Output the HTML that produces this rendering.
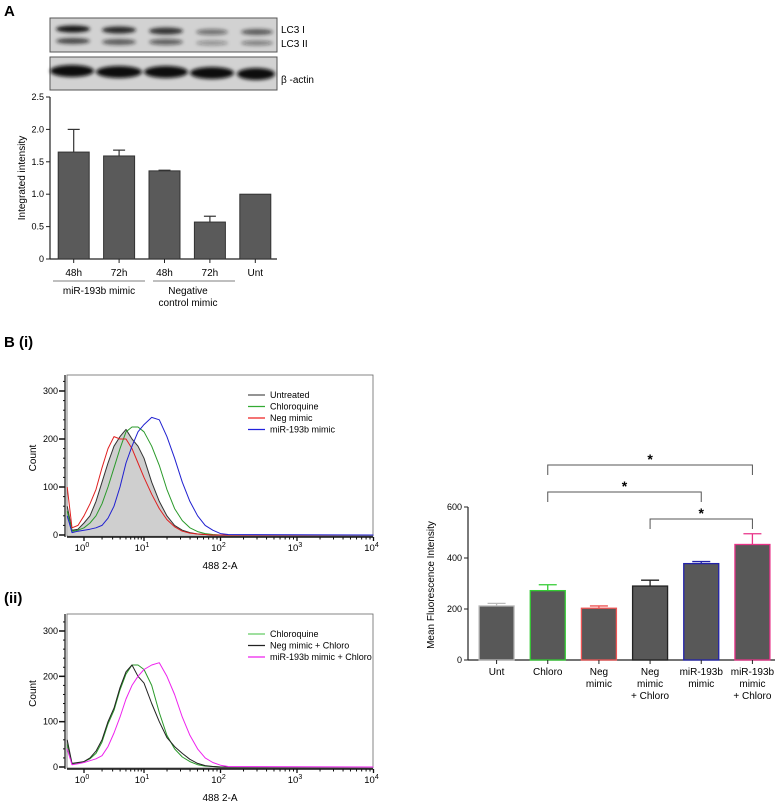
<!DOCTYPE html>
<html><head><meta charset="utf-8"><style>
html,body{margin:0;padding:0;background:#fff;}
svg{display:block;font-family:"Liberation Sans",sans-serif;}
</style></head><body>
<svg id="fig" width="782" height="804" viewBox="0 0 782 804" xmlns="http://www.w3.org/2000/svg">
<defs><filter id="blur" x="-20%" y="-50%" width="140%" height="200%"><feGaussianBlur stdDeviation="1.8"/></filter></defs>
<text x="4" y="16" font-size="15" font-weight="bold">A</text>
<g>
<rect x="50" y="18" width="227" height="34" fill="#d2d2d2" stroke="#555" stroke-width="1"/>
<g filter="url(#blur)" fill="#181818">
<ellipse cx="73" cy="29" rx="17" ry="3.5" opacity="1"/><ellipse cx="119" cy="30" rx="17" ry="3.5" opacity="0.9"/><ellipse cx="166" cy="31" rx="17" ry="3.5" opacity="0.85"/><ellipse cx="212" cy="32" rx="16" ry="3" opacity="0.5"/><ellipse cx="257" cy="32" rx="16" ry="3" opacity="0.65"/>
<ellipse cx="73" cy="41" rx="17" ry="3" opacity="0.75"/><ellipse cx="119" cy="42" rx="17" ry="3" opacity="0.65"/><ellipse cx="166" cy="42" rx="17" ry="3" opacity="0.6"/><ellipse cx="212" cy="43" rx="16" ry="2.5" opacity="0.35"/><ellipse cx="257" cy="43" rx="16" ry="2.5" opacity="0.45"/>
</g></g>
<text x="281" y="33" font-size="10">LC3 I</text>
<text x="281" y="47" font-size="10">LC3 II</text>
<g>
<rect x="50" y="57" width="227" height="33" fill="#d2d2d2" stroke="#555" stroke-width="1"/>
<g filter="url(#blur)" fill="#0a0a0a">
<ellipse cx="72" cy="71" rx="22" ry="6"/><ellipse cx="119" cy="72" rx="23" ry="6"/><ellipse cx="166" cy="72" rx="22" ry="6"/><ellipse cx="212" cy="73" rx="22" ry="6"/><ellipse cx="256" cy="74" rx="19" ry="6"/>
</g></g>
<text x="281" y="83" font-size="10">β -actin</text>
<g id="chartA"></g>
<text x="4" y="347" font-size="15" font-weight="bold">B (i)</text>
<g id="hist1"></g>
<text x="4" y="603" font-size="15" font-weight="bold">(ii)</text>
<g id="hist2"></g>
<g id="chartB"></g>
</svg>
<script>
// Panel A data
const aCats = ["48h","72h","48h","72h","Unt"];
const aVals = [1.65,1.59,1.36,0.57,1.0];
const aErr = [0.35,0.09,0.01,0.09,0];
const aTicks = [0,0.5,1.0,1.5,2.0,2.5];
const aTickLabels = ["0","0.5","1.0","1.5","2.0","2.5"];
// Histogram bins (log10 of intensity)
const hLogs = [-0.28,-0.2,-0.1,0,0.1,0.2,0.3,0.4,0.5,0.6,0.7,0.8,0.9,1.0,1.1,1.2,1.3,1.4,1.5,1.6,1.7,1.8,1.9,2.0,2.1,4.0];
const untreated = [60,10,12,25,40,70,110,150,185,205,220,200,185,160,110,70,40,20,10,5,2,1,0,0,0,0];
const chloroquine = [50,8,10,15,25,40,65,100,140,180,215,225,225,215,185,145,95,55,30,15,7,3,1,0,0,0];
const negMimic = [100,15,20,40,65,95,140,180,205,200,200,180,150,120,85,55,32,17,8,4,2,1,0,0,0,0];
const mirMimic = [40,5,8,10,12,15,20,35,60,100,150,185,215,230,245,240,205,160,110,70,40,20,10,3,1,0];
const chloroquine2 = [50,6,8,12,18,30,55,95,125,170,205,225,225,215,180,120,70,40,22,12,5,2,1,0,0,0];
const negChloro = [60,8,10,12,20,35,60,100,130,175,210,225,200,185,140,100,65,45,30,17,8,3,1,0,0,0];
const mirChloro = [40,5,7,10,14,18,25,45,75,110,150,180,200,215,225,230,200,160,110,70,40,20,10,4,1,0];
const hTicks = [0,100,200,300];
const xDecades = [0,1,2,3,4];
// Panel B bar data
const bCats = [["Unt"],["Chloro"],["Neg","mimic"],["Neg","mimic","+ Chloro"],["miR-193b","mimic"],["miR-193b","mimic","+ Chloro"]];
const bVals = [212,272,203,290,378,453];
const bErr = [10,23,9,23,8,42];
const bTicks = [0,200,400,600];
const bSig = [[1,5,1],[1,4,2],[3,5,3]];

const NS="http://www.w3.org/2000/svg";
function mk(parent,tag,attrs,text){const e=document.createElementNS(NS,tag);for(const k in attrs)e.setAttribute(k,attrs[k]);if(text!==undefined)e.textContent=text;parent.appendChild(e);return e;}

// ---- Panel A chart ----
(function(){
const g=document.getElementById('chartA');
const x0=50,x1=277,yTop=97,yBot=259;
const y=v=>yBot-(v/2.5)*(yBot-yTop);
const bw=(x1-x0)/aCats.length;
const ax=mk(g,'line',{x1:x0,y1:yTop,x2:x0,y2:yBot,stroke:'#222','stroke-width':1.2});

const bx=mk(g,'line',{x1:x0,y1:yBot,x2:x1,y2:yBot,stroke:'#222','stroke-width':1.2});

aTicks.forEach((t,i)=>{
 mk(g,'line',{x1:x0-4,y1:y(t),x2:x0,y2:y(t),stroke:'#222'});
 const tl=mk(g,'text',{x:x0-6,y:y(t)+3,'font-size':9,'text-anchor':'end'},aTickLabels[i]);
 
});
aVals.forEach((v,i)=>{
 const cx=x0+bw*(i+0.5)+1;
 if(aErr[i]>0){mk(g,'line',{x1:cx,y1:y(v),x2:cx,y2:y(v+aErr[i]),stroke:'#333','stroke-width':1.2});mk(g,'line',{x1:cx-6,y1:y(v+aErr[i]),x2:cx+6,y2:y(v+aErr[i]),stroke:'#333','stroke-width':1.2});}
 const r=mk(g,'rect',{x:cx-15.5,y:y(v),width:31,height:yBot-y(v),fill:'#5a5a5a',stroke:'#333','stroke-width':1});
 
 mk(g,'line',{x1:cx,y1:yBot,x2:cx,y2:yBot+4,stroke:'#222'});
 const t=mk(g,'text',{x:cx,y:276,'font-size':10,'text-anchor':'middle'},aCats[i]);
 
});
mk(g,'line',{x1:53,y1:281,x2:145,y2:281,stroke:'#999','stroke-width':1.2});
mk(g,'line',{x1:153,y1:281,x2:235,y2:281,stroke:'#999','stroke-width':1.2});
const g1=mk(g,'text',{x:99,y:294,'font-size':10,'text-anchor':'middle'},'miR-193b mimic');

const g2=mk(g,'text',{x:188,y:294,'font-size':10,'text-anchor':'middle'},'Negative');

mk(g,'text',{x:188,y:306,'font-size':10,'text-anchor':'middle'},'control mimic');
const yt=mk(g,'text',{x:0,y:0,'font-size':10,'text-anchor':'middle',transform:'translate(25,178) rotate(-90)'},'Integrated intensity');

})();

// ---- Histograms ----
function xs(L){return L<1?84+60*L:144+76.5*(L-1);}
function hist(id,top,yZero,y300,series,legend){
 const g=document.getElementById(id);
 const x0=67,x1=373;
 const y=v=>yZero-(v/300)*(yZero-y300);
 const fr=mk(g,'rect',{x:x0,y:top,width:x1-x0,height:yZero+1-top,fill:'none',stroke:'#666','stroke-width':0.8});
 
 const bottom=yZero+2;
 mk(g,'line',{x1:x0,y1:bottom,x2:x1,y2:bottom,stroke:'#111','stroke-width':1.5});
 mk(g,'line',{x1:x0-2,y1:top,x2:x0-2,y2:bottom,stroke:'#111','stroke-width':1.2});
 for(let v=0;v<=320;v+=20){if(y(v)<top)break;mk(g,'line',{x1:x0-4,y1:y(v),x2:x0-2,y2:y(v),stroke:'#111'});}
 hTicks.forEach(t=>{mk(g,'line',{x1:x0-8,y1:y(t),x2:x0-2,y2:y(t),stroke:'#111','stroke-width':1.5});
  const tl=mk(g,'text',{x:x0-9,y:y(t)+3,'font-size':9,'text-anchor':'end'},String(t));
  });
 xDecades.forEach(d=>{
  mk(g,'line',{x1:xs(d),y1:bottom,x2:xs(d),y2:bottom+4,stroke:'#111','stroke-width':1.3});
  if(d<4)for(let m=2;m<10;m++){const xx=xs(d+Math.log10(m));mk(g,'line',{x1:xx,y1:bottom,x2:xx,y2:bottom+2.5,stroke:'#111'});}
  const t=mk(g,'text',{x:xs(d)-2,y:bottom+14,'font-size':9.5,'text-anchor':'middle'});
  
  mk(t,'tspan',{},'10');mk(t,'tspan',{dy:-4,'font-size':7},String(d));
 });
 series.forEach(s=>{
  const pts=hLogs.map((L,i)=>xs(L).toFixed(1)+','+y(s.data[i]).toFixed(1));
  if(s.fill){const p=mk(g,'polygon',{points:xs(hLogs[0])+','+y(0)+' '+pts.join(' ')+' '+xs(4)+','+y(0),fill:'#cfcfcf',stroke:'none'});
   }
  const l=mk(g,'polyline',{points:pts.join(' '),fill:'none',stroke:s.color,'stroke-width':1,'stroke-linejoin':'round'});
  
 });
 legend.forEach((e,i)=>{
  const ly=top+20+i*11.5;
  mk(g,'line',{x1:248,y1:ly,x2:265,y2:ly,stroke:e.color,'stroke-width':1.3});
  const t=mk(g,'text',{x:270,y:ly+3,'font-size':9},e.label);
  
 });
 const ct=mk(g,'text',{x:0,y:0,'font-size':10,'text-anchor':'middle',transform:'translate(36,'+((top+yZero)/2+3)+') rotate(-90)'},'Count');
 
 const xt=mk(g,'text',{x:220,y:bottom+32,'font-size':10,'text-anchor':'middle'},'488 2-A');
 
}
hist('hist1',375,535,391,[
 {name:'untreated',data:untreated,color:'#333',fill:true},
 {name:'chloroquine',data:chloroquine,color:'#2a9a2a'},
 {name:'neg-mimic',data:negMimic,color:'#e02020'},
 {name:'mir-mimic',data:mirMimic,color:'#2020d0'}],
 [{label:'Untreated',color:'#555'},{label:'Chloroquine',color:'#3a3'},{label:'Neg mimic',color:'#e22'},{label:'miR-193b mimic',color:'#22d'}]);
hist('hist2',614,767,631,[
 {name:'chloroquine',data:chloroquine2,color:'#2a9a2a'},
 {name:'neg-chloro',data:negChloro,color:'#222'},
 {name:'mir-chloro',data:mirChloro,color:'#ee22ee'}],
 [{label:'Chloroquine',color:'#6c6'},{label:'Neg mimic + Chloro',color:'#222'},{label:'miR-193b mimic + Chloro',color:'#e2e'}]);

// ---- Panel B bar chart ----
(function(){
const g=document.getElementById('chartB');
const x0=468,x1=775,yTop=507,yBot=660;
const y=v=>yBot-(v/600)*(yBot-yTop);
const bw=(x1-x0)/bCats.length;
const colors=['#bbb','#33cc33','#ee5555','#222','#2222aa','#e83388'];
mk(g,'line',{x1:x0,y1:yTop,x2:x0,y2:yBot,stroke:'#222','stroke-width':1.2});
mk(g,'line',{x1:x0,y1:yBot,x2:x1,y2:yBot,stroke:'#222','stroke-width':1.2});
bTicks.forEach(t=>{mk(g,'line',{x1:x0-4,y1:y(t),x2:x0,y2:y(t),stroke:'#222'});
 const tl=mk(g,'text',{x:x0-6,y:y(t)+3,'font-size':9,'text-anchor':'end'},String(t));
 });
const cxs=[];
bVals.forEach((v,i)=>{
 const cx=x0+bw*(i+0.5)+3;cxs.push(cx);
 mk(g,'line',{x1:cx,y1:y(v),x2:cx,y2:y(v+bErr[i]),stroke:colors[i],'stroke-width':1.3});
 mk(g,'line',{x1:cx-9,y1:y(v+bErr[i]),x2:cx+9,y2:y(v+bErr[i]),stroke:colors[i],'stroke-width':1.3});
 const r=mk(g,'rect',{x:cx-17.5,y:y(v),width:35,height:yBot-y(v),fill:'#585858',stroke:colors[i],'stroke-width':1.3});
 
 mk(g,'line',{x1:cx,y1:yBot,x2:cx,y2:yBot+4,stroke:'#222'});
 bCats[i].forEach((ln,j)=>{const t=mk(g,'text',{x:cx,y:675+j*12,'font-size':10,'text-anchor':'middle'},ln);
  });
});
const bracketY=[465,492,519];
bSig.forEach((s,k)=>{
 const a=cxs[s[0]],b=cxs[s[1]],by=bracketY[k];
 const p=mk(g,'polyline',{points:a+','+(by+10)+' '+a+','+by+' '+b+','+by+' '+b+','+(by+10),fill:'none',stroke:'#555','stroke-width':1});
 
 const st=mk(g,'text',{x:(a+b)/2,y:by-1,'font-size':14,'font-weight':'bold','text-anchor':'middle'},'*');
 
});
const yt=mk(g,'text',{x:0,y:0,'font-size':10,'text-anchor':'middle',transform:'translate(434,585) rotate(-90)'},'Mean Fluorescence Intensity');

})();
</script>
</body></html>
